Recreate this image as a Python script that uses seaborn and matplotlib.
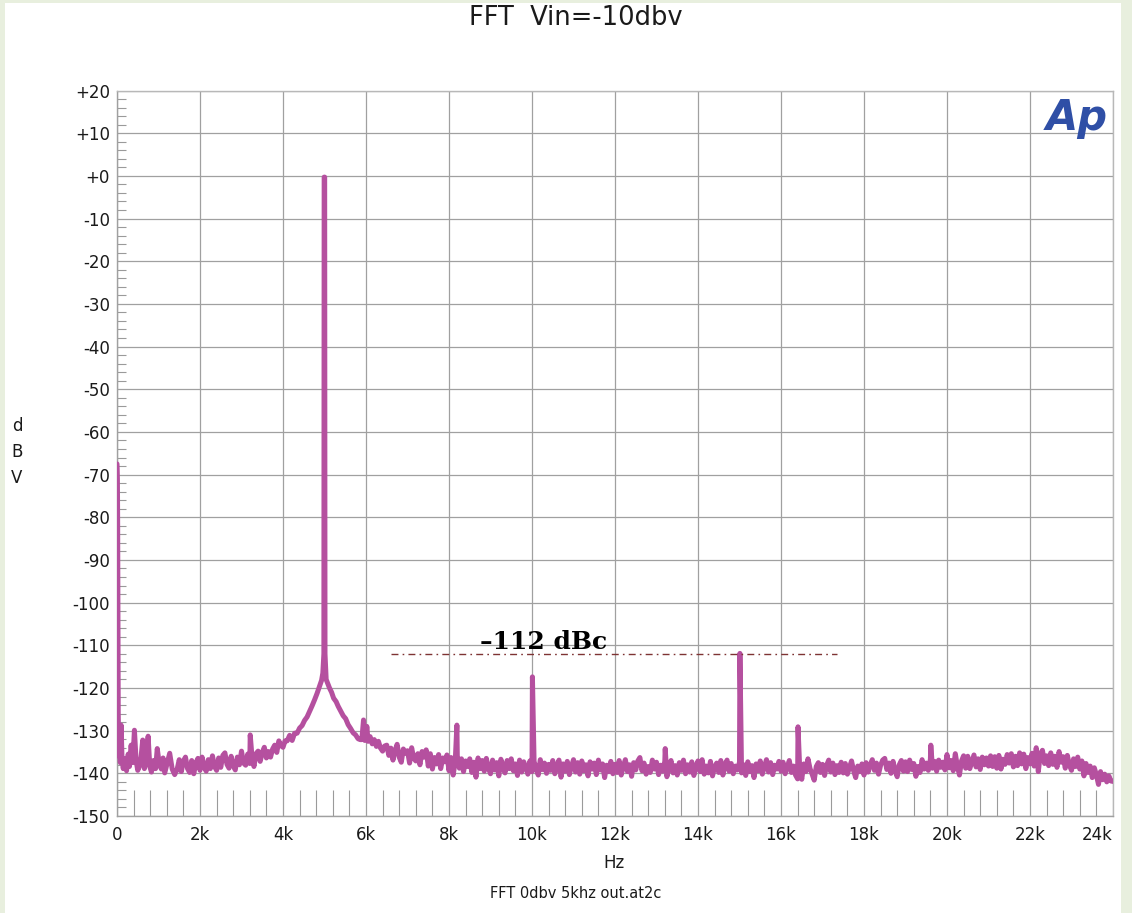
import numpy as np
import pandas as pd
import matplotlib
matplotlib.use("Agg")
import matplotlib.pyplot as plt
from matplotlib.ticker import MultipleLocator
from matplotlib.patches import Rectangle
import seaborn as sns

# ---------------- data ----------------
# DC region and first kHz (kHz, dBV)
dc_khz = [0.0, 0.004, 0.010, 0.016, 0.022, 0.030, 0.045, 0.060, 0.080, 0.100, 0.120,
          0.150, 0.190, 0.230, 0.270, 0.300, 0.340, 0.380, 0.420, 0.460, 0.500, 0.540,
          0.580, 0.620, 0.660, 0.700, 0.750, 0.790, 0.830, 0.880, 0.930, 0.970, 1.020,
          1.070, 1.110, 1.150, 1.210, 1.270, 1.330, 1.390]
dc_db = [-67.5, -68.5, -71.0, -82.0, -104.0, -126.0, -136.0, -133.0, -137.5, -128.7, -136.5,
         -138.9, -136.6, -139.4, -135.5, -138.4, -133.4, -137.5, -129.9, -137.0, -139.3, -138.4,
         -136.2, -132.2, -138.9, -137.0, -131.3, -138.4, -139.7, -137.0, -138.9, -134.2, -137.9,
         -139.0, -136.4, -139.9, -137.6, -135.3, -139.0, -140.3]

# noise floor 1.45k .. 3.55k, one reading every 50 Hz
floor_low_start_khz = 1.45
floor_step_khz = 0.05
floor_low_db = [-139.0, -136.8, -139.6, -137.1, -136.2, -138.9, -139.8, -137.0, -140.1, -137.6,
                -136.5, -139.3, -136.2, -138.6, -139.5, -136.8, -138.9, -135.9, -138.4, -139.3,
                -136.4, -138.6, -135.8, -135.2, -137.9, -138.8, -136.0, -138.2, -139.2, -136.2,
                -138.0, -134.8, -137.6, -138.1, -135.5, -137.7, -135.8, -138.4, -135.4, -134.8,
                -137.2, -135.1, -133.9]

# skirt around the 5 kHz carrier
skirt_khz = [3.60, 3.65, 3.70, 3.75, 3.80, 3.85, 3.90, 3.95, 4.00, 4.05, 4.10, 4.16, 4.22,
             4.28, 4.34, 4.40, 4.46, 4.52, 4.58, 4.64, 4.70, 4.76, 4.82, 4.88, 4.93, 4.96,
             4.985, 4.992, 5.004, 5.012,
             5.04, 5.08, 5.12, 5.17, 5.22, 5.28, 5.33, 5.39, 5.45, 5.51, 5.57, 5.63, 5.69,
             5.75, 5.81, 5.86, 5.90, 5.94, 5.97, 6.00, 6.02, 6.05, 6.10, 6.15, 6.20, 6.25,
             6.30, 6.35, 6.40, 6.45]
skirt_db = [-136.4, -134.9, -136.2, -134.3, -133.4, -135.1, -132.4, -133.5, -133.9, -132.4,
            -132.4, -131.1, -132.3, -130.6, -130.6, -129.4, -128.8, -127.6, -126.8, -125.5,
            -124.2, -122.8, -121.3, -119.6, -118.2, -116.5,
            -112.0, -0.3, -0.3, -112.0,
            -118.0, -119.0, -120.0, -121.0, -122.4, -123.2, -124.3, -125.4, -126.5, -127.2,
            -128.6, -129.5, -130.5, -131.0, -131.9, -132.1, -132.1, -127.5, -132.3, -131.2,
            -129.0, -132.5, -131.4, -133.1, -132.1, -133.7, -132.5, -134.1, -134.8, -133.6]

# noise floor 6.50k .. 24.00k, one reading every 50 Hz
floor_high_start_khz = 6.50
floor_high_db = [
    -133.4, -135.8, -134.1, -136.9, -134.7, -133.2, -136.2, -137.4, -134.3, -135.3,
    -134.7, -137.6, -134.0, -136.5, -137.1, -135.4, -138.0, -134.9, -136.2, -134.5,
    -138.3, -135.4, -139.0, -136.3, -137.8, -135.6, -138.9, -136.4, -137.3, -135.7,
    -139.4, -136.3, -140.4, -137.2, -135.9, -138.8, -136.6, -139.6, -137.1, -138.4,
    -136.6, -139.8, -137.4, -140.9, -136.4, -138.9, -137.0, -139.5, -136.5, -138.8,
    -140.1, -136.9, -139.2, -137.5, -140.6, -136.7, -138.5, -139.9, -137.0, -138.9,
    -136.6, -139.4, -137.8, -140.5, -136.9, -139.7, -137.3, -138.6, -140.2, -137.1,
    -139.6, -137.2, -138.9, -140.4, -136.8, -139.1, -137.6, -140.0, -137.9, -139.3,
    -137.0, -140.1, -138.2, -136.9, -140.9, -137.8, -139.5, -137.2, -140.3, -138.4,
    -136.8, -139.7, -137.5, -140.2, -137.1, -139.4, -138.0, -140.6, -137.3, -139.0,
    -137.6, -140.3, -136.9, -139.2, -137.8, -141.0, -138.1, -139.6, -137.2, -140.1,
    -137.9, -139.8, -137.0, -140.4, -138.3, -136.8, -139.6, -138.0, -140.7, -137.5,
    -139.2, -137.1, -136.3, -139.4, -137.6, -140.2, -138.4, -139.8, -136.9, -139.0,
    -137.4, -140.3, -138.1, -139.5, -137.2, -140.8, -138.6, -137.0, -139.9, -138.2,
    -140.4, -137.5, -139.3, -136.9, -140.1, -138.0, -139.7, -137.3, -140.5, -138.4,
    -137.1, -139.6, -136.8, -140.2, -138.3, -139.9, -137.2, -140.6, -138.5, -137.6,
    -139.8, -137.0, -140.4, -138.1, -136.9, -139.5, -137.7, -140.1, -138.3, -139.2,
    -137.4, -139.9, -138.0, -140.5, -137.3, -139.6, -138.2, -141.0, -137.8, -139.4,
    -137.1, -140.2, -138.4, -136.8, -139.7, -137.5, -140.3, -138.1, -139.0, -137.2,
    -139.5, -137.4, -140.1, -138.6, -137.0, -139.8, -138.3, -140.4, -141.3, -138.7,
    -141.4, -137.8, -139.6, -136.6, -138.9, -140.2, -141.6, -138.4, -137.5, -139.8,
    -137.9, -140.5, -138.1, -136.9, -139.7, -137.6, -140.3, -138.2, -139.8, -137.4,
    -139.9, -137.7, -140.2, -138.6, -137.1, -139.4, -141.0, -138.3, -139.6, -137.8,
    -140.4, -137.5, -139.7, -138.0, -136.8, -139.3, -137.6, -140.2, -138.1, -136.9,
    -136.5, -139.1, -137.6, -140.0, -137.2, -139.4, -140.8, -138.0, -137.0, -139.5,
    -137.3, -139.6, -136.9, -139.1, -137.7, -140.7, -138.4, -139.8, -136.8, -139.0,
    -137.6, -139.3, -136.7, -138.8, -137.2, -139.5, -136.9, -138.6, -137.4, -139.2,
    -135.6, -138.7, -137.0, -139.4, -135.4, -138.3, -140.4, -137.1, -135.9, -138.8,
    -136.0, -138.9, -137.3, -135.7, -138.5, -136.6, -139.1, -136.2, -138.0, -136.4,
    -138.3, -135.9, -138.4, -136.1, -138.8, -135.8, -139.0, -136.7, -137.9, -135.6,
    -137.6, -135.4, -138.5, -136.0, -138.2, -135.2, -137.8, -135.5, -138.9, -136.3,
    -137.8, -135.3, -138.3, -134.0, -139.6, -135.4, -134.6, -137.7, -135.9, -138.2,
    -135.2, -137.9, -136.0, -138.6, -134.9, -137.4, -136.1, -138.8, -135.8, -138.1,
    -139.3, -136.6, -138.4, -136.2, -139.0, -137.1, -140.6, -137.7, -139.8, -138.3,
    -141.0, -138.7, -140.4, -142.6, -139.6, -141.5, -140.2, -142.0, -140.6, -141.8,
    -141.9]

# harmonic / spurious lines (tops)
spur_khz = [3.21, 8.19, 10.01, 13.21, 15.01, 16.41, 19.61]
spur_db = [-131.0, -128.7, -117.4, -134.2, -111.9, -129.1, -133.4]

# dBc reference marker
ref_line_khz = [6.6, 17.35]
ref_level_db = -112
ref_label = "\u2013112 dBc"

# axes ticks
x_ticks_khz = [0, 2, 4, 6, 8, 10, 12, 14, 16, 18, 20, 22, 24]
x_tick_labels = ["0", "2k", "4k", "6k", "8k", "10k", "12k", "14k", "16k", "18k", "20k", "22k", "24k"]
y_ticks = [20, 10, 0, -10, -20, -30, -40, -50, -60, -70, -80, -90, -100,
           -110, -120, -130, -140, -150]
y_tick_labels = ["+20", "+10", "+0", "-10", "-20", "-30", "-40", "-50", "-60", "-70", "-80",
                 "-90", "-100", "-110", "-120", "-130", "-140", "-150"]

title = "FFT  Vin=-10dbv"
x_label = "Hz"
y_label = "d\nB\nV"
footer = "FFT 0dbv 5khz out.at2c"

# ---------------- assemble trace ----------------
floor_low_khz = floor_low_start_khz + floor_step_khz * np.arange(len(floor_low_db))
floor_high_khz = floor_high_start_khz + floor_step_khz * np.arange(len(floor_high_db))
khz = np.concatenate([dc_khz, floor_low_khz, skirt_khz, floor_high_khz, spur_khz])
db = np.concatenate([dc_db, floor_low_db, skirt_db, floor_high_db, spur_db])
order = np.argsort(khz, kind="mergesort")
df = pd.DataFrame({"Hz": khz[order] * 1000.0, "dBV": db[order]})

# ---------------- figure ----------------
sns.set_theme(style="white")
plt.rcParams["font.family"] = ["DejaVu Sans"]

W, H = 1132, 913
fig = plt.figure(figsize=(W / 100, H / 100), dpi=100)
fig.patch.set_facecolor("#E8EFDE")
fig.add_artist(Rectangle((5 / W, 0), (1121 - 5) / W, 1 - 3 / H, transform=fig.transFigure,
                         facecolor="white", edgecolor="none", zorder=-5))

ax = fig.add_axes([117 / W, 1 - 816 / H, (1113 - 117) / W, (816 - 90.5) / H])

sns.lineplot(data=df, x="Hz", y="dBV", estimator=None, sort=False, ax=ax,
             color="#B5509F", lw=3.6, zorder=3)

ax.plot(np.array(ref_line_khz) * 1000.0, [ref_level_db, ref_level_db], color="#7E3333",
        lw=1.0, linestyle=(0, (5, 3, 1.2, 3)), zorder=4)
ax.text(8750, -110.9, ref_label, fontfamily="DejaVu Serif", fontweight="bold",
        fontsize=18, ha="left", va="baseline", color="black", zorder=5)

ax.set_xlim(0, 24000)
ax.set_ylim(-150, 20)
ax.set_xticks(np.array(x_ticks_khz) * 1000.0)
ax.set_xticklabels(x_tick_labels)
ax.set_yticks(y_ticks)
ax.set_yticklabels(y_tick_labels)
ax.xaxis.set_minor_locator(MultipleLocator(400))
ax.yaxis.set_minor_locator(MultipleLocator(2))
ax.tick_params(which="major", length=0, labelsize=12, colors="#1a1a1a")
ax.tick_params(axis="x", which="major", pad=7)
ax.tick_params(axis="y", which="major", pad=5)
ax.tick_params(axis="x", which="minor", direction="in", length=19, width=0.8, color="#9a9a9a",
               bottom=True)
ax.tick_params(axis="y", which="minor", direction="in", length=6.5, width=0.8, color="#9a9a9a",
               left=True)
ax.xaxis.get_ticklabels()[-1].set_ha("right")
ax.grid(which="major", color="#a0a0a0", lw=0.9)
ax.set_axisbelow(True)
ax.set_xlabel("")
ax.set_ylabel("")
for side, sp in ax.spines.items():
    sp.set_visible(True)
    sp.set_color("#b8b8b8" if side in ("top", "right") else "#a0a0a0")
    sp.set_linewidth(1.0)

fig.text(576 / W, 1 - 18 / H, title, ha="center", va="center", fontsize=18.5, color="#1a1a1a")
fig.text(614 / W, 1 - 863 / H, x_label, ha="center", va="center", fontsize=12, color="#1a1a1a")
fig.text(17 / W, 1 - 452 / H, y_label, ha="center", va="center", fontsize=12,
         linespacing=1.55, color="#1a1a1a")
fig.text(576 / W, 1 - 893 / H, footer, ha="center", va="center", fontsize=10.5, color="#1a1a1a")
fig.text(1108 / W, 1 - 118 / H, "Ap", ha="right", va="center", fontsize=30, fontweight="bold",
         style="italic", color="#2F4FA6")

fig.savefig("out.png", dpi=100)
